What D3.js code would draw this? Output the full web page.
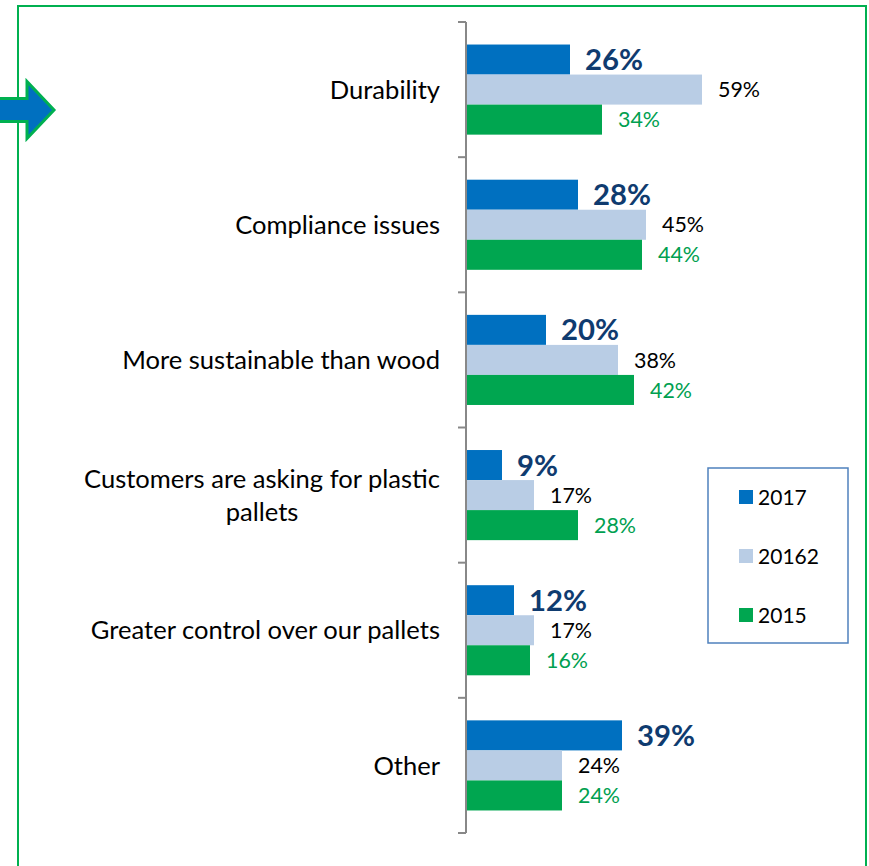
<!DOCTYPE html>
<html><head><meta charset="utf-8">
<script src="https://cdn.jsdelivr.net/npm/d3@7"></script>
<style>html,body{margin:0;padding:0;background:#fff;} svg{display:block;}</style>
</head><body>
<svg id="chart" width="869" height="866"></svg>
<script>
const categories = ["Durability","Compliance issues","More sustainable than wood","Customers are asking for plastic pallets","Greater control over our pallets","Other"];
const categoryLines = [["Durability"],["Compliance issues"],["More sustainable than wood"],["Customers are asking for plastic","pallets"],["Greater control over our pallets"],["Other"]];
const seriesNames = ["2017","20162","2015"];
const values2017 = [26,28,20,9,12,39];
const values2016 = [59,45,38,17,17,24];
const values2015 = [34,44,42,28,16,24];
const seriesValues = [values2017, values2016, values2015];
const barColors = ["#0070C0","#B9CDE5","#00A650"];
const labelColors = ["#0F3B6F","#000000","#00A050"];
const FONT = "Lato, 'Noto Sans', sans-serif";

const svg = d3.select("#chart");

function fitSize(text, weight, target){
  const t = svg.append("text").attr("font-family",FONT).attr("font-weight",weight).attr("font-size",100).text(text);
  const w = t.node().getComputedTextLength();
  t.remove();
  return 100*target/w;
}
const catSize = fitSize("Customers are asking for plastic","normal",356);
const valSize = fitSize("17%","normal",42);
const boldSize = fitSize("26%","bold",58);
const legSize = fitSize("20162","normal",61);

// frame
svg.append("path").attr("d","M18,866 V6 H866 V866").attr("fill","none").attr("stroke","#00B050").attr("stroke-width",2);

// arrow
svg.append("path")
  .attr("d","M-5,98.5 H27 V81.5 L54,110 L27,138.5 V121.5 H-5 Z")
  .attr("fill","#0070C0").attr("stroke","#00B050").attr("stroke-width",3).attr("stroke-linejoin","miter");

const x = d3.scaleLinear().domain([0,100]).range([466,866]);
const y = d3.scaleBand().domain(categories).range([22,833]).paddingInner(0).paddingOuter(0);
const ys = d3.scaleBand().domain(seriesNames).range([0,y.bandwidth()]).paddingInner(0).paddingOuter(0.75);

categories.forEach((c,ci)=>{
  const g = svg.append("g").attr("transform",`translate(0,${y(c)})`);
  seriesNames.forEach((s,si)=>{
    const v = seriesValues[si][ci];
    g.append("rect").attr("x",x(0)).attr("y",ys(s)).attr("width",x(v)-x(0)).attr("height",ys.bandwidth())
      .attr("fill",barColors[si]);
    g.append("text").attr("x",x(v)+(si===0?15:16)).attr("y",ys(s)+ys.bandwidth()/2)
      .attr("dy","0.36em")
      .attr("font-family",FONT)
      .attr("font-weight", si===0?"bold":"normal")
      .attr("font-size", si===0?boldSize:valSize)
      .attr("fill",labelColors[si])
      .text(v+"%");
  });
});

// axis
const ag = svg.append("g").attr("transform",`translate(${x(0)},0)`);
ag.append("line").attr("x1",0).attr("x2",0).attr("y1",y.range()[0]).attr("y2",y.range()[1]).attr("stroke","#888").attr("stroke-width",2);
const tickYs = categories.map(c=>y(c)).concat([y.range()[1]]);
ag.selectAll("line.tk").data(tickYs).join("line").attr("class","tk")
  .attr("x1",-8).attr("x2",0).attr("y1",d=>d).attr("y2",d=>d).attr("stroke","#888").attr("stroke-width",2);

// category labels
categories.forEach((c,ci)=>{
  const lines = categoryLines[ci];
  const cy = y(c)+y.bandwidth()/2;
  const lh = catSize*1.3;
  if(lines.length===1){
    svg.append("text").attr("x",440).attr("y",cy).attr("dy","0.36em").attr("text-anchor","end")
      .attr("font-family",FONT).attr("font-size",catSize).attr("fill","#000").text(lines[0]);
  } else {
    const t0 = svg.append("text").attr("font-family",FONT).attr("font-size",catSize).text(lines[0]);
    const w0 = t0.node().getComputedTextLength(); t0.remove();
    const cx = 440 - w0/2;
    lines.forEach((ln,li)=>{
      svg.append("text").attr("x",cx).attr("y",cy + (li-(lines.length-1)/2)*lh).attr("dy","0.36em")
        .attr("text-anchor","middle").attr("font-family",FONT).attr("font-size",catSize).attr("fill","#000").text(ln);
    });
  }
});

// legend
const lg = svg.append("g");
lg.append("rect").attr("x",708).attr("y",468).attr("width",140).attr("height",175).attr("fill","#fff").attr("stroke","#4F81BD").attr("stroke-width",1.5);
const ly = d3.scalePoint().domain(seriesNames).range([497,615]);
seriesNames.forEach((s,si)=>{
  lg.append("rect").attr("x",739).attr("y",ly(s)-7).attr("width",14).attr("height",14).attr("fill",barColors[si]);
  lg.append("text").attr("x",758).attr("y",ly(s)).attr("dy","0.36em").attr("font-family",FONT).attr("font-size",legSize).attr("fill","#000").text(s);
});
</script>
</body></html>
